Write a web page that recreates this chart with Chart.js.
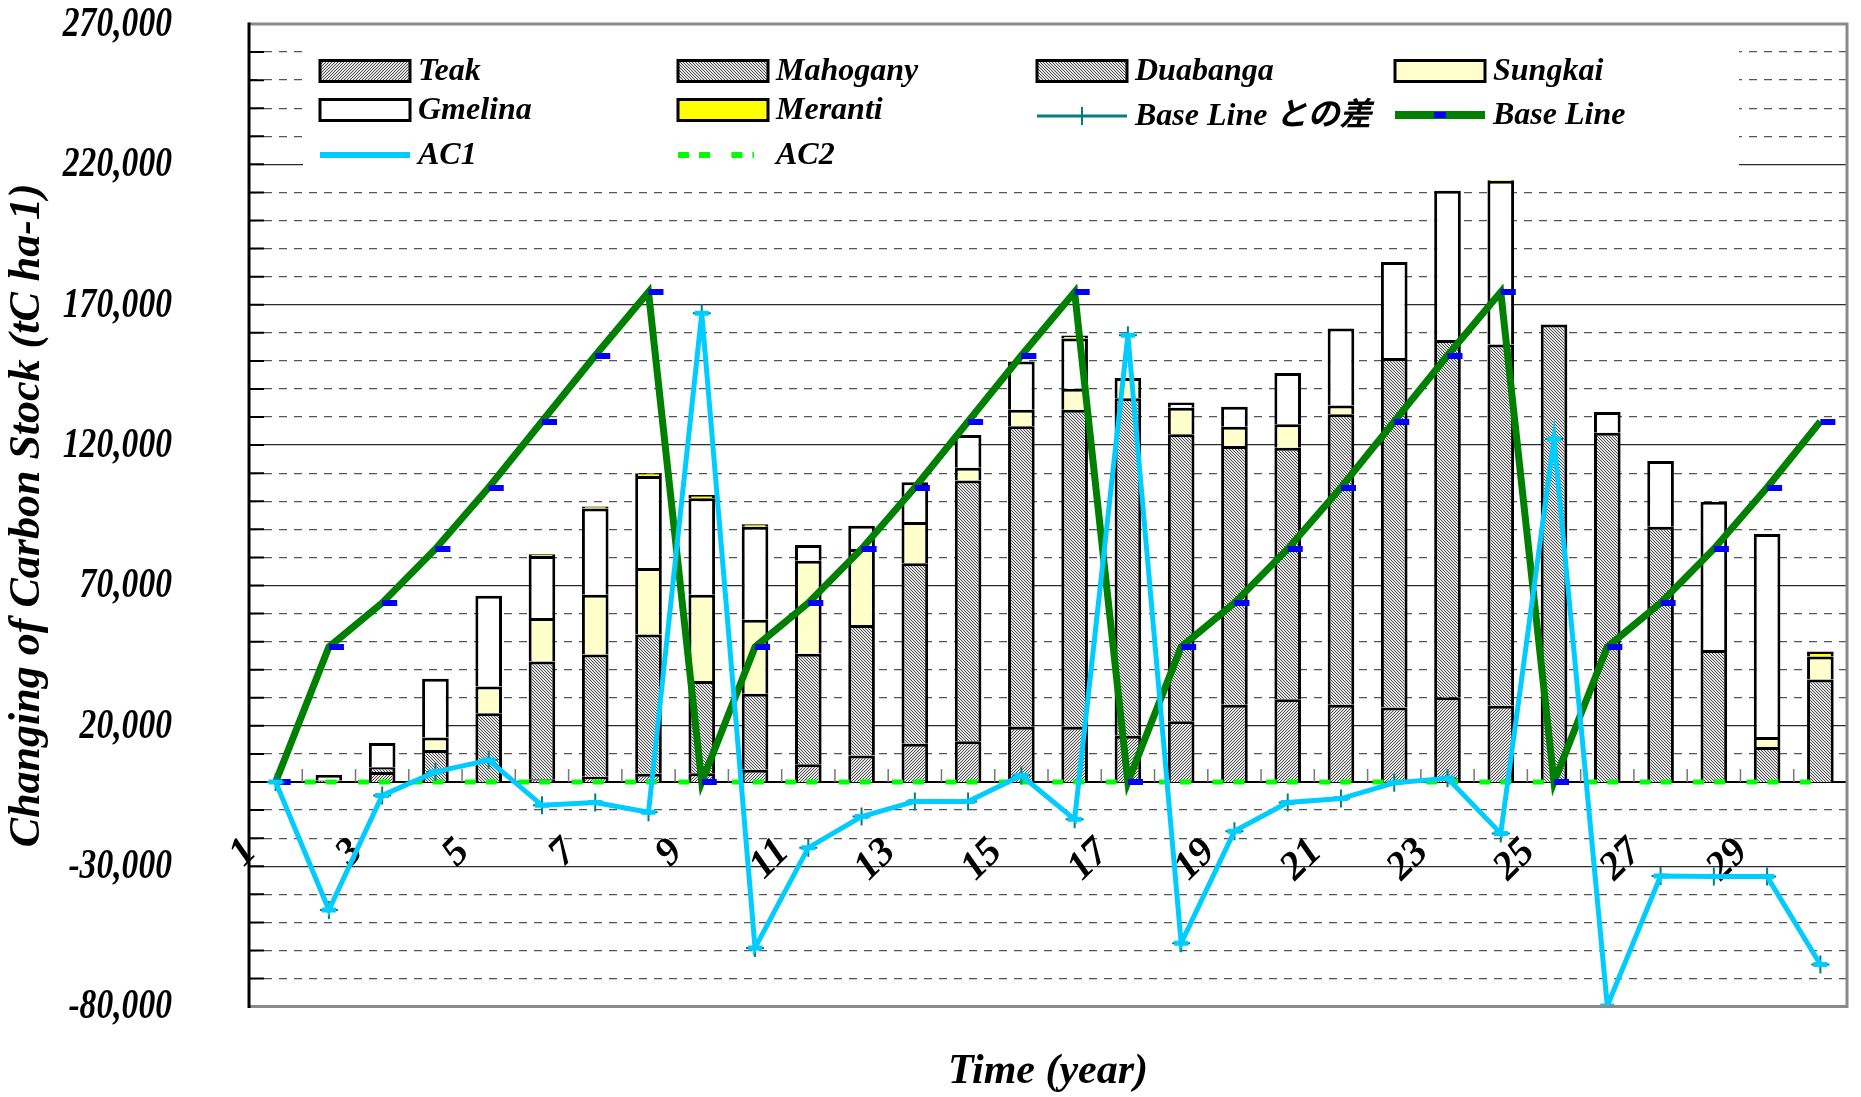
<!DOCTYPE html>
<html>
<head>
<meta charset="utf-8">
<title>Changing of Carbon Stock</title>
<script src="https://cdn.jsdelivr.net/npm/chart.js@4.4.1/dist/chart.umd.min.js"></script>
<style>
  html, body { margin: 0; padding: 0; background: #fff; }
  #wrap { position: relative; width: 1861px; height: 1097px; }
</style>
</head>
<body>
<div id="wrap"><canvas id="carbonChart"></canvas></div>
<script>
// values (tC ha-1)
const years = ['1','2','3','4','5','6','7','8','9','10','11','12','13','14','15',
               '16','17','18','19','20','21','22','23','24','25','26','27','28','29','30'];

const teak     = [0, 500, 3600, 0, 0, 1000, 1900, 2900, 3100, 4400, 6300, 9400, 13600, 14500, 19700,
                  19700, 16500, 21600, 27500, 29500, 27500, 26500, 30200, 27200, 0, 0, 0, 0, 0, 0];
const mahogany = [0, 0, 1700, 11400, 24500, 41900, 43500, 49600, 32900, 27000, 39400, 46500, 64300, 92900, 107000,
                  112900, 120200, 102300, 92200, 89600, 103500, 124500, 127200, 128600, 0, 0, 0, 0, 0, 0];
const duabanga = [0, 0, 0, 0, 0, 0, 0, 0, 0, 0, 0, 0, 0, 0, 0,
                  0, 0, 0, 0, 0, 0, 0, 0, 0, 163000, 124400, 90900, 47000, 12500, 36500];
const sungkai  = [0, 0, 0, 4450, 9500, 15500, 21300, 23700, 30700, 26400, 33100, 27100, 14700, 4500, 5900,
                  7500, 7200, 9400, 6800, 8300, 3100, 0, 0, 0, 0, 0, 0, 0, 3500, 8200];
const gmelina  = [0, 2000, 8600, 20950, 32300, 22100, 30700, 32800, 34400, 33100, 5600, 8300, 14200, 11700, 17200,
                  17900, 0, 1900, 7200, 18300, 27400, 34200, 53200, 58400, 0, 7400, 23400, 52800, 72300, 0];
const meranti  = [0, 0, 0, 0, 0, 600, 700, 1000, 1100, 900, 0, 0, 0, 0, 0,
                  1000, 0, 0, 0, 0, 0, 0, 0, 1000, 0, 0, 0, 0, 0, 1800];

const baseLine = [0, 48100, 63800, 83000, 104900, 128400, 151900, 174500, 0, 48100, 63800, 83000, 104900, 128400, 151900,
                  174500, 0, 48100, 63800, 83000, 104900, 128400, 151900, 174500, 0, 48100, 63800, 83000, 104900, 128400];
const baseDiff = [0, -45600, -4800, 3600, 7800, -8300, -7300, -10800, 167000, -59100, -23400, -12300, -6900, -6900, 2300,
                  -13300, 159100, -57400, -17500, -7300, -5900, -300, 1300, -18300, 122200, -79800, -33500, -33700, -33700, -65000];
const ac1      = [0, -45600, -4800, 3600, 7800, -8300, -7300, -10800, 167000, -59100, -23400, -12300, -6900, -6900, 2300,
                  -13300, 159100, -57400, -17500, -7300, -5900, -300, 1300, -18300, 122200, -79800, -33500, -33700, -33700, -65000];
const ac2      = [0, 0, 0, 0, 0, 0, 0, 0, 0, 0, 0, 0, 0, 0, 0,
                  0, 0, 0, 0, 0, 0, 0, 0, 0, 0, 0, 0, 0, 0, 0];

const Y_MIN = -80000, Y_MAX = 270000, MAJOR = 50000, MINOR = 10000;
const FONT = "'Liberation Serif', 'Noto Sans CJK JP', 'DejaVu Serif', serif";

// grey hatch fills like the old Excel patterns
function hatch(kind) {
  const c = document.createElement('canvas');
  c.width = 6; c.height = 6;
  const g = c.getContext('2d');
  g.fillStyle = '#e6e6e6';
  g.fillRect(0, 0, 6, 6);
  g.fillStyle = '#4a4a4a';
  for (let px = 0; px < 6; px++) {
    for (let py = 0; py < 6; py++) {
      let on = false;
      if (kind === 'fwd') on = (px + py) % 3 === 0;
      else if (kind === 'back') on = (px - py + 6) % 3 === 0;
      else on = (px + 2 * py) % 3 === 0;
      if (on) g.fillRect(px, py, 1, 1);
    }
  }
  return g.createPattern(c, 'repeat');
}

// Excel draws the base line marker just right of the vertex
function dashMarker(color) {
  const c = document.createElement('canvas');
  c.width = 32; c.height = 6;
  const g = c.getContext('2d');
  g.fillStyle = color;
  g.fillRect(16, 0, 15, 6);
  return c;
}

const barStyle = { borderColor: '#000', borderWidth: 3, barPercentage: 0.5, categoryPercentage: 1,
                   stack: 'trees', order: 10, type: 'bar' };

const datasets = [
  { ...barStyle, label: 'Teak', data: teak, backgroundColor: hatch('fwd') },
  { ...barStyle, label: 'Mahogany', data: mahogany, backgroundColor: hatch('back') },
  { ...barStyle, label: 'Duabanga', data: duabanga, backgroundColor: hatch('dot') },
  { ...barStyle, label: 'Sungkai', data: sungkai, backgroundColor: '#ffffcc' },
  { ...barStyle, label: 'Gmelina', data: gmelina, backgroundColor: '#ffffff' },
  { ...barStyle, label: 'Meranti', data: meranti, backgroundColor: '#ffff00' },
  { type: 'line', label: 'AC2', data: ac2, stack: 'ac2', order: 3,
    borderColor: '#00ff00', borderWidth: 5, borderDash: [11, 10, 11, 21.4], borderDashOffset: 24.4,
    pointRadius: 0, tension: 0 },
  { type: 'line', label: 'Base Line', data: baseLine, stack: 'base', order: 2,
    borderColor: '#008000', borderWidth: 7, pointStyle: dashMarker('#0000ff'), pointRadius: 7,
    markerColor: '#0000ff', tension: 0 },
  { type: 'line', label: 'Base Line との差', data: baseDiff, stack: 'diff', order: 1,
    borderColor: '#008080', borderWidth: 2, pointStyle: 'cross', pointRadius: 9,
    pointBorderWidth: 2, pointBorderColor: '#008080', tension: 0 },
  { type: 'line', label: 'AC1', data: ac1, stack: 'ac1', order: 0,
    borderColor: '#00ccff', borderWidth: 5, pointStyle: 'line', pointRadius: 7,
    pointBorderWidth: 5, pointBorderColor: '#00ccff', tension: 0 }
];

// legend grid as in the original (4 columns, 3 rows)
const legendLayout = [
  { name: 'Teak',            x: 320,  y: 71 },
  { name: 'Mahogany',        x: 678,  y: 71 },
  { name: 'Duabanga',        x: 1037, y: 71 },
  { name: 'Sungkai',         x: 1395, y: 71 },
  { name: 'Gmelina',         x: 320,  y: 110 },
  { name: 'Meranti',         x: 678,  y: 110 },
  { name: 'Base Line との差', x: 1037, y: 116 },
  { name: 'Base Line',       x: 1395, y: 115 },
  { name: 'AC1',             x: 320,  y: 155 },
  { name: 'AC2',             x: 678,  y: 155 }
];

const axisMarks = {
  id: 'axisMarks',
  beforeDatasetsDraw(chart) {
    const { ctx, chartArea: a, scales: { x, y } } = chart;
    ctx.save();
    ctx.strokeStyle = '#000';
    ctx.lineWidth = 2;
    ctx.beginPath();
    for (let v = Y_MIN; v <= Y_MAX; v += MINOR) {
      const py = y.getPixelForValue(v);
      ctx.moveTo(a.left, py);
      ctx.lineTo(a.left + 15, py);
    }
    ctx.stroke();
    const y0 = y.getPixelForValue(0);
    ctx.strokeStyle = '#777';
    ctx.lineWidth = 1.5;
    ctx.beginPath();
    for (let i = 0; i <= years.length; i++) {
      const px = x.getPixelForValue(i - 0.5);
      ctx.moveTo(px, y0);
      ctx.lineTo(px, y0 - 13);
    }
    ctx.stroke();
    ctx.restore();
  },
  afterDraw(chart) {
    const { ctx, chartArea: a, scales: { y } } = chart;
    ctx.save();
    // plot frame
    ctx.strokeStyle = '#8a8a8a';
    ctx.lineWidth = 3;
    ctx.beginPath();
    ctx.moveTo(a.left, a.top);
    ctx.lineTo(a.right, a.top);
    ctx.lineTo(a.right, a.bottom);
    ctx.lineTo(a.left, a.bottom);
    ctx.stroke();
    ctx.strokeStyle = '#000';
    ctx.beginPath();
    ctx.moveTo(a.left, a.top - 1.5);
    ctx.lineTo(a.left, a.bottom + 1.5);
    ctx.stroke();

    // y tick labels, a little condensed like the original
    ctx.fillStyle = '#000';
    ctx.font = 'italic bold 42px ' + FONT;
    ctx.textAlign = 'right';
    ctx.textBaseline = 'middle';
    y.ticks.forEach(t => {
      ctx.save();
      ctx.translate(a.left - 77, y.getPixelForValue(t.value) + 1);
      ctx.scale(0.8, 1);
      ctx.fillText(t.value.toLocaleString('en-US'), 0, 0);
      ctx.restore();
    });

    // legend
    ctx.fillStyle = '#fff';
    ctx.fillRect(303, 30, 1436, 150);
    ctx.font = 'italic bold 32px ' + FONT;
    ctx.textBaseline = 'middle';
    ctx.textAlign = 'left';
    legendLayout.forEach(item => {
      const ds = chart.data.datasets.find(d => d.label === item.name);
      const w = 90;
      if (ds.type === 'bar') {
        ctx.fillStyle = ds.backgroundColor;
        ctx.fillRect(item.x, item.y - 10.5, w, 21);
        ctx.strokeStyle = '#000';
        ctx.lineWidth = 3;
        ctx.strokeRect(item.x, item.y - 10.5, w, 21);
      } else {
        ctx.strokeStyle = ds.borderColor;
        ctx.lineWidth = ds.borderWidth + 1;
        ctx.setLineDash(ds.borderDash || []);
        ctx.beginPath();
        ctx.moveTo(item.x, item.y);
        ctx.lineTo(item.x + (ds.borderDash ? 76 : w), item.y);
        ctx.stroke();
        ctx.setLineDash([]);
        const cx = item.x + w / 2;
        if (ds.pointStyle === 'cross') {
          ctx.lineWidth = ds.pointBorderWidth;
          ctx.beginPath();
          ctx.moveTo(cx, item.y - 9);
          ctx.lineTo(cx, item.y + 9);
          ctx.stroke();
        } else if (ds.markerColor) {
          ctx.fillStyle = ds.markerColor;
          ctx.fillRect(cx - 6, item.y - 3, 12, 6);
        }
      }
      ctx.fillStyle = '#000';
      ctx.fillText(item.name, item.x + 98, item.y + 1);
    });
    ctx.restore();
  }
};

new Chart(document.getElementById('carbonChart'), {
  type: 'bar',
  data: { labels: years, datasets: datasets },
  options: {
    responsive: true,
    maintainAspectRatio: false,
    animation: false,
    layout: { padding: { top: 24, right: 9, bottom: 0, left: 0 } },
    plugins: {
      legend: { display: false },
      tooltip: { enabled: false },
      title: {
        display: true,
        position: 'bottom',
        fullSize: false,
        text: 'Time (year)',
        color: '#000',
        font: { family: FONT, size: 42, weight: 'bold', style: 'italic' },
        padding: { top: 40, bottom: 0 }
      }
    },
    scales: {
      x: {
        stacked: true,
        position: { y: 0 },
        // invisible tick marks only push the labels down from the zero line
        grid: { display: true, drawOnChartArea: false, drawTicks: true, tickLength: 47,
                tickColor: 'rgba(0,0,0,0)' },
        border: { display: true, color: '#000', width: 2 },
        ticks: {
          autoSkip: false,
          minRotation: 45,
          maxRotation: 45,
          padding: 0,
          labelOffset: -25,
          color: '#000',
          font: { family: FONT, size: 40, weight: 'bold', style: 'italic' },
          callback: (v, i) => (i % 2 === 0 ? years[i] : '')
        }
      },
      y: {
        stacked: true,
        position: 'left',
        min: Y_MIN,
        max: Y_MAX,
        afterFit: s => { s.width = 249; },
        grid: { color: '#2a2a2a', lineWidth: 1.3, drawTicks: false },
        border: { display: false },
        ticks: { display: false, stepSize: MAJOR },
        title: {
          display: true,
          text: 'Changing of Carbon Stock (tC ha-1)',
          color: '#000',
          font: { family: FONT, size: 44, weight: 'bold', style: 'italic' },
          padding: { top: 1, bottom: 0 }
        }
      },
      yMinor: {
        position: 'left',
        min: Y_MIN,
        max: Y_MAX,
        afterFit: s => { s.width = 0; },
        grid: {
          drawTicks: false,
          lineWidth: 1.3,
          color: c => ((c.tick.value - Y_MIN) % MAJOR === 0 ? 'rgba(0,0,0,0)' : '#555')
        },
        border: { display: false, dash: [8, 7] },
        ticks: { display: false, stepSize: MINOR, maxTicksLimit: 100, padding: 0 }
      }
    }
  },
  plugins: [axisMarks]
});
</script>
</body>
</html>
